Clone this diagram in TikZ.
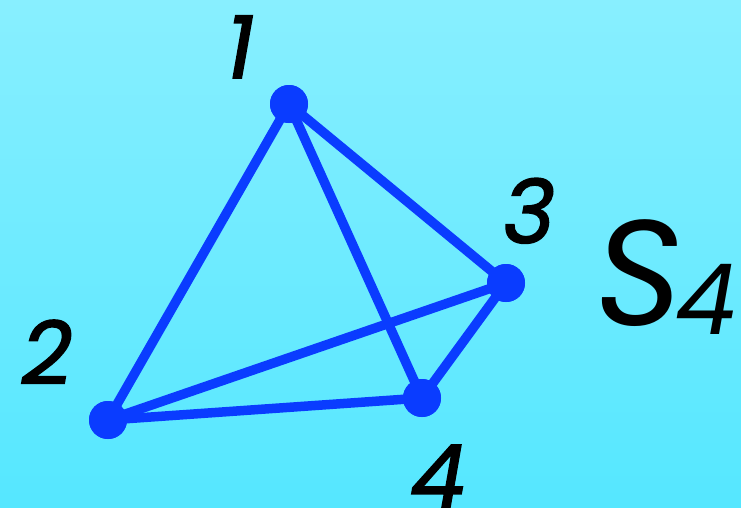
\documentclass[tikz,border=0pt]{standalone}
\usepackage{fontspec}
\setmainfont{Poppins}
\newfontfamily\digfont{Poppins}[FakeBold=1.8]
\definecolor{bgtop}{HTML}{88EFFF}
\definecolor{bgbot}{HTML}{55E7FF}
\definecolor{edgeblue}{HTML}{0A3CFF}
\begin{document}
\begin{tikzpicture}[x=1pt,y=-1pt,
  vert/.style={circle,fill=edgeblue,minimum size=38pt,inner sep=0pt},
  edge/.style={draw=edgeblue,line width=9.5pt},
  lab/.style={anchor=base,inner sep=0pt,font=\fontsize{88}{88}\digfont\itshape}]
\shade[top color=bgtop,bottom color=bgbot] (0,0) rectangle (741,507);
\useasboundingbox (0,0) rectangle (741,507);
\node[vert] (v1) at (289,104) {};
\node[vert] (v2) at (108,420) {};
\node[vert] (v3) at (506,283) {};
\node[vert] (v4) at (422,398) {};
\draw[edge] (v1.center) -- (v2.center);
\draw[edge] (v1.center) -- (v3.center);
\draw[edge] (v1.center) -- (v4.center);
\draw[edge] (v2.center) -- (v3.center);
\draw[edge] (v2.center) -- (v4.center);
\draw[edge] (v3.center) -- (v4.center);
\foreach \v in {v1,v2,v3,v4} \fill[edgeblue] (\v) circle (19pt);
\node[lab] (l1) at (240,78) {1};
\node[lab] (l2) at (47,384) {2};
\node[lab] (l3) at (529,243) {3};
\node[lab] (l4) at (438,508) {4};
\node[anchor=base,inner sep=0pt,font=\fontsize{150}{150}\selectfont\itshape] (s) at (639,325) {S};
\node[anchor=base,inner sep=0pt,font=\fontsize{98}{98}\selectfont\itshape] (s4) at (706,334) {4};
\end{tikzpicture}
\end{document}
